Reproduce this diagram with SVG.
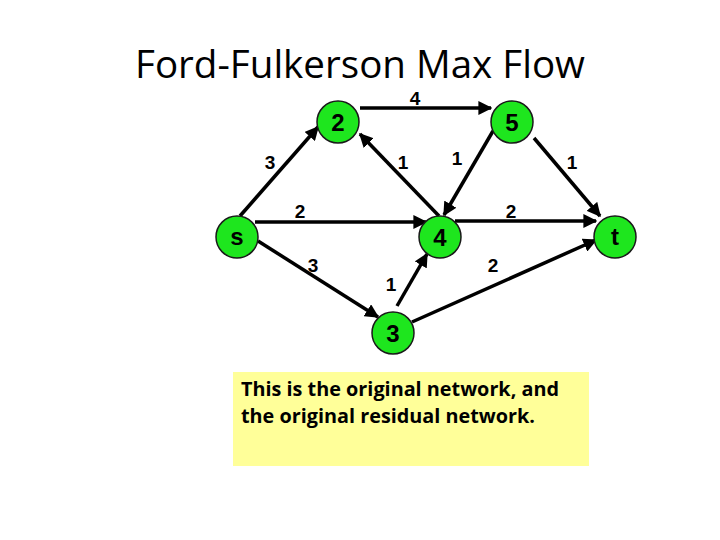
<svg xmlns="http://www.w3.org/2000/svg" width="720" height="540" viewBox="0 0 720 540">
<defs>
<marker id="ah" viewBox="0 0 10 10" refX="9" refY="5" markerWidth="4" markerHeight="4" orient="auto" markerUnits="strokeWidth">
<path d="M0,0 L10,5 L0,10 z" fill="#000"/>
</marker>
<style>
.edge{stroke:#000;stroke-width:3.5;fill:none;marker-end:url(#ah)}
.node circle{fill:#1ee61e;stroke:#1a1a1a;stroke-width:1.5}
.node text{font-family:"Liberation Sans",Arial,sans-serif;font-weight:bold;font-size:24px;text-anchor:middle;fill:#000}
.lbl{font-family:"Liberation Sans",Arial,sans-serif;font-weight:bold;font-size:19px;text-anchor:middle;fill:#000}
</style>
</defs>
<rect width="720" height="540" fill="#fff"/>
<text x="360" y="78" font-family="'Open Sans','Liberation Sans',sans-serif" font-size="38" text-anchor="middle" textLength="450" lengthAdjust="spacingAndGlyphs" fill="#000">Ford-Fulkerson Max Flow</text>
<g id="connectors">
<line class="edge" x1="360" y1="108" x2="491" y2="108"/>
<line class="edge" x1="240" y1="216" x2="318" y2="127"/>
<line class="edge" x1="439" y1="216" x2="360" y2="134"/>
<line class="edge" x1="493" y1="131" x2="444" y2="215"/>
<line class="edge" x1="534" y1="138" x2="600" y2="216"/>
<line class="edge" x1="255" y1="222" x2="426" y2="222"/>
<line class="edge" x1="455" y1="221" x2="596" y2="221"/>
<line class="edge" x1="258" y1="241" x2="378" y2="317"/>
<line class="edge" x1="397" y1="306" x2="427" y2="254"/>
<line class="edge" x1="412" y1="322" x2="596" y2="240"/>
<text class="lbl" x="415" y="105">4</text>
<text class="lbl" x="270" y="169">3</text>
<text class="lbl" x="403" y="169">1</text>
<text class="lbl" x="457" y="165">1</text>
<text class="lbl" x="572" y="169">1</text>
<text class="lbl" x="300" y="218">2</text>
<text class="lbl" x="511" y="218">2</text>
<text class="lbl" x="313" y="272">3</text>
<text class="lbl" x="391" y="291">1</text>
<text class="lbl" x="493" y="272">2</text>
</g>
<g id="node-2" class="node"><circle cx="338" cy="122" r="21"/><text x="338" y="131">2</text></g>
<g id="node-5" class="node"><circle cx="512" cy="122" r="21"/><text x="512" y="131">5</text></g>
<g id="node-s" class="node"><circle cx="237" cy="237" r="21"/><text x="237" y="245" font-size="20">s</text></g>
<g id="node-4" class="node"><circle cx="440" cy="237" r="21"/><text x="440" y="246">4</text></g>
<g id="node-3" class="node"><circle cx="393" cy="333" r="21"/><text x="393" y="342">3</text></g>
<g id="node-t" class="node"><circle cx="615" cy="237" r="21"/><text x="615" y="245" font-size="20">t</text></g>
<g id="note">
<rect x="233" y="372" width="356" height="94" fill="#ffff99"/>
<text x="241" y="396" font-family="'Open Sans','Liberation Sans',sans-serif" font-weight="bold" font-size="19" textLength="318" lengthAdjust="spacingAndGlyphs" fill="#000">This is the original network, and</text>
<text x="241" y="423" font-family="'Open Sans','Liberation Sans',sans-serif" font-weight="bold" font-size="19" textLength="294" lengthAdjust="spacingAndGlyphs" fill="#000">the original residual network.</text>
</g>
</svg>
